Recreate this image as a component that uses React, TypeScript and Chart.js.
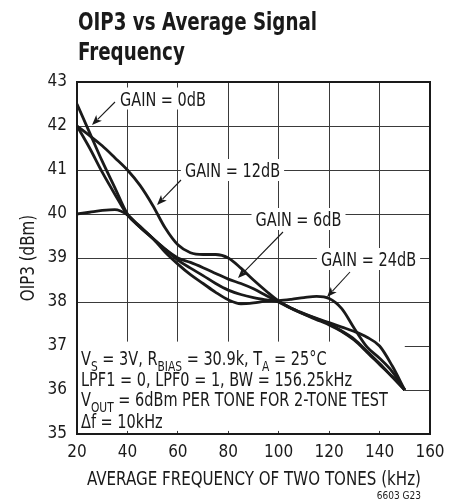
import React, { useEffect, useRef } from 'react';
import { Chart, registerables } from 'chart.js';
Chart.register(...registerables);

// ---- data ----
const FREQ_KHZ = [20, 25, 30, 35, 40, 45, 50, 55, 60, 65, 70, 75, 80, 85, 90, 95, 100, 105, 110, 115, 120, 125, 130, 135, 140, 145, 150];
const GAIN_0DB = [42.5, 41.85, 41.2, 40.6, 40.0, 39.72, 39.45, 39.2, 38.95, 38.77, 38.6, 38.42, 38.27, 38.17, 38.1, 38.05, 38.0, 37.86, 37.73, 37.62, 37.5, 37.34, 37.15, 36.88, 36.6, 36.3, 36.0];
const GAIN_6DB = [42.0, 41.5, 40.95, 40.45, 39.98, 39.7, 39.45, 39.2, 39.0, 38.9, 38.78, 38.65, 38.52, 38.42, 38.3, 38.15, 38.0, 37.85, 37.72, 37.6, 37.48, 37.33, 37.13, 36.86, 36.58, 36.3, 36.0];
const GAIN_12DB = [42.0, 41.78, 41.55, 41.28, 41.0, 40.65, 40.2, 39.68, 39.3, 39.12, 39.08, 39.08, 39.0, 38.77, 38.5, 38.25, 38.02, 37.86, 37.74, 37.63, 37.53, 37.43, 37.33, 37.2, 37.0, 36.55, 36.0];
const GAIN_24DB = [40.0, 40.04, 40.08, 40.1, 39.98, 39.7, 39.45, 39.13, 38.86, 38.62, 38.42, 38.22, 38.05, 37.96, 37.98, 38.02, 38.03, 38.06, 38.1, 38.13, 38.08, 37.85, 37.4, 36.98, 36.72, 36.42, 36.0];
const X_TICKS = [20, 40, 60, 80, 100, 120, 140, 160];
const Y_TICKS = [35, 36, 37, 38, 39, 40, 41, 42, 43];

const TITLE_LINES = ['OIP3 vs Average Signal', 'Frequency'];
const X_TITLE = 'AVERAGE FREQUENCY OF TWO TONES (kHz)';
const Y_TITLE = 'OIP3 (dBm)';
const FOOT = '6603 G23';
const CONDITIONS: [string, boolean][][] = [
  [['V', false], ['S', true], [' = 3V, R', false], ['BIAS', true], [' = 30.9k, T', false], ['A', true], [' = 25°C', false]],
  [['LPF1 = 0, LPF0 = 1, BW = 156.25kHz', false]],
  [['V', false], ['OUT', true], [' = 6dBm PER TONE FOR 2-TONE TEST', false]],
  [['Δf = 10kHz', false]],
];
const GAIN_LABELS = ['GAIN = 0dB', 'GAIN = 12dB', 'GAIN = 6dB', 'GAIN = 24dB'];

const FONT = "'Liberation Sans Narrow', 'Arial Narrow', 'DejaVu Sans Condensed', 'Liberation Sans', sans-serif";
const INK = '#1a1a1a';

function richWidth(ctx: CanvasRenderingContext2D, parts: [string, boolean][], size: number) {
  let w = 0;
  for (const [t, sub] of parts) {
    ctx.font = `${sub ? Math.round(size * 0.72) : size}px ${FONT}`;
    w += ctx.measureText(t).width;
  }
  return w;
}

function drawRich(ctx: CanvasRenderingContext2D, x: number, y: number, parts: [string, boolean][], size: number, sx: number) {
  ctx.save();
  ctx.translate(x, y);
  ctx.scale(sx, 1);
  let cx = 0;
  for (const [t, sub] of parts) {
    ctx.font = `${sub ? Math.round(size * 0.72) : size}px ${FONT}`;
    ctx.fillText(t, cx, sub ? size * 0.3 : 0);
    cx += ctx.measureText(t).width;
  }
  ctx.restore();
}

function arrow(ctx: CanvasRenderingContext2D, x1: number, y1: number, x2: number, y2: number) {
  const ang = Math.atan2(y2 - y1, x2 - x1);
  const L = 10, W = 4;
  ctx.save();
  ctx.strokeStyle = INK;
  ctx.fillStyle = INK;
  ctx.lineWidth = 1.1;
  ctx.beginPath();
  ctx.moveTo(x1, y1);
  ctx.lineTo(x2 - Math.cos(ang) * L * 0.8, y2 - Math.sin(ang) * L * 0.8);
  ctx.stroke();
  ctx.beginPath();
  ctx.moveTo(x2, y2);
  ctx.lineTo(x2 - Math.cos(ang) * L - Math.sin(ang) * W, y2 - Math.sin(ang) * L + Math.cos(ang) * W);
  ctx.lineTo(x2 - Math.cos(ang) * L * 0.75, y2 - Math.sin(ang) * L * 0.75);
  ctx.lineTo(x2 - Math.cos(ang) * L + Math.sin(ang) * W, y2 - Math.sin(ang) * L - Math.cos(ang) * W);
  ctx.closePath();
  ctx.fill();
  ctx.restore();
}

const annotPlugin = {
  id: 'annot',
  beforeDatasetsDraw(chart: any) {
    const ctx: CanvasRenderingContext2D = chart.ctx;
    const xs = chart.scales.x;
    const ys = chart.scales.y;
    const px = (v: number) => xs.getPixelForValue(v);
    const py = (v: number) => ys.getPixelForValue(v);
    ctx.save();
    // conditions box (white background covering the grid)
    ctx.fillStyle = '#fff';
    ctx.fillRect(px(20), py(37.1), px(150) - px(20), py(35.07) - py(37.1));

    const size = 19;
    const sx = 271 / richWidth(ctx, CONDITIONS[1], size);
    ctx.fillStyle = INK;
    ctx.textBaseline = 'alphabetic';
    ctx.textAlign = 'left';
    const baselines = [365, 385.5, 406, 427.5];
    CONDITIONS.forEach((line, i) => drawRich(ctx, 81, baselines[i], line, size, sx));

    // gain labels
    const labelPos = [
      [163, 98.5],
      [232.5, 170],
      [298.5, 219],
      [368.5, 259],
    ];
    GAIN_LABELS.forEach((t, i) => {
      ctx.font = `${size}px ${FONT}`;
      const w = ctx.measureText(t).width * sx;
      const [cx, cy] = labelPos[i];
      ctx.fillStyle = '#fff';
      ctx.fillRect(cx - w / 2 - 4, cy - 11, w + 8, 22);
      ctx.fillStyle = INK;
      ctx.save();
      ctx.translate(cx - w / 2, cy + 7);
      ctx.scale(sx, 1);
      ctx.fillText(t, 0, 0);
      ctx.restore();
    });
    ctx.restore();
  },
  afterDatasetsDraw(chart: any) {
    const ctx: CanvasRenderingContext2D = chart.ctx;
    const a = chart.chartArea;
    ctx.save();
    ctx.strokeStyle = INK;
    ctx.lineWidth = 2;
    ctx.strokeRect(a.left, a.top, a.right - a.left, a.bottom - a.top);
    arrow(ctx, 115, 102, 92, 125);
    arrow(ctx, 181, 180, 157, 205);
    arrow(ctx, 283, 232, 238, 278);
    arrow(ctx, 350, 272, 327, 297);

    // titles
    ctx.fillStyle = INK;
    ctx.textBaseline = 'alphabetic';
    ctx.textAlign = 'left';
    ctx.font = `bold 25px ${FONT}`;
    const tsx = 239 / ctx.measureText(TITLE_LINES[0]).width;
    [30, 60].forEach((b, i) => {
      ctx.save();
      ctx.translate(78, b);
      ctx.scale(tsx, 1);
      ctx.fillText(TITLE_LINES[i], 0, 0);
      ctx.restore();
    });

    ctx.font = `19px ${FONT}`;
    const xsx = 334 / ctx.measureText(X_TITLE).width;
    ctx.save();
    ctx.translate(254, 485);
    ctx.scale(xsx, 1);
    ctx.textAlign = 'center';
    ctx.fillText(X_TITLE, 0, 0);
    ctx.restore();

    ctx.save();
    ctx.translate(34, 258);
    ctx.rotate(-Math.PI / 2);
    ctx.scale(xsx, 1);
    ctx.textAlign = 'center';
    ctx.fillText(Y_TITLE, 0, 0);
    ctx.restore();

    ctx.font = `10px ${FONT}`;
    ctx.textAlign = 'right';
    ctx.fillText(FOOT, 421, 499);
    ctx.restore();
  },
};

export default function App() {
  const ref = useRef<HTMLCanvasElement | null>(null);
  useEffect(() => {
    if (!ref.current) return;
    const mk = (label: string, vals: number[]) => ({
      label,
      data: FREQ_KHZ.map((x, i) => ({ x, y: vals[i] })),
      borderColor: INK,
      borderWidth: 2.8,
      pointRadius: 0,
      fill: false,
      tension: 0.4,
      cubicInterpolationMode: 'monotone' as const,
    });
    const chart = new Chart(ref.current, {
      type: 'line',
      data: {
        datasets: [
          mk(GAIN_LABELS[0], GAIN_0DB),
          mk(GAIN_LABELS[2], GAIN_6DB),
          mk(GAIN_LABELS[1], GAIN_12DB),
          mk(GAIN_LABELS[3], GAIN_24DB),
        ],
      },
      options: {
        responsive: false,
        animation: false,
        devicePixelRatio: 1,
        layout: { padding: { left: 0, top: 82, right: 23, bottom: 0 } },
        plugins: { legend: { display: false }, tooltip: { enabled: false }, title: { display: false } },
        scales: {
          x: {
            type: 'linear',
            min: 20,
            max: 160,
            afterBuildTicks: (s: any) => { s.ticks = X_TICKS.map((v) => ({ value: v })); },
            afterFit: (s: any) => { s.height = 66; },
            grid: { color: '#3a3a3a', lineWidth: 1, drawTicks: false },
            border: { display: false },
            ticks: { font: { family: FONT, size: 17 }, color: INK, padding: 8, maxRotation: 0, autoSkip: false },
          },
          y: {
            type: 'linear',
            min: 35,
            max: 43,
            afterBuildTicks: (s: any) => { s.ticks = Y_TICKS.map((v) => ({ value: v })); },
            afterFit: (s: any) => { s.width = 77; },
            grid: { color: '#3a3a3a', lineWidth: 1, drawTicks: false },
            border: { display: false },
            ticks: { font: { family: FONT, size: 17 }, color: INK, padding: 10, autoSkip: false },
          },
        },
      },
      plugins: [annotPlugin],
    } as any);
    return () => chart.destroy();
  }, []);
  return (
    <div style={{ position: 'fixed', left: 0, top: 0, width: 453, height: 500, background: '#fff' }}>
      <canvas ref={ref} width={453} height={500} style={{ display: 'block', width: 453, height: 500 }} />
    </div>
  );
}
